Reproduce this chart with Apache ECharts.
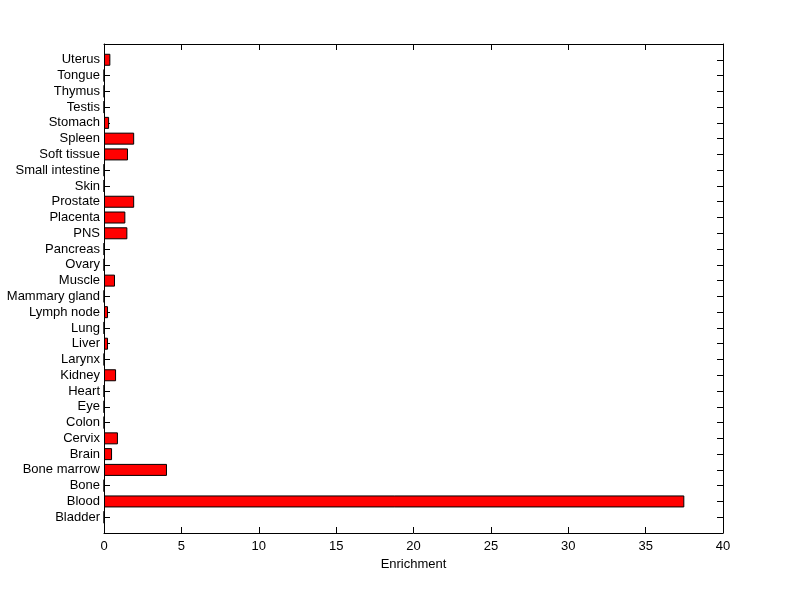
<!DOCTYPE html>
<html><head><meta charset="utf-8">
<script src="https://cdn.jsdelivr.net/npm/echarts@6/dist/echarts.min.js"></script>
<style>html,body{margin:0;padding:0;background:#fff}#c{width:800px;height:599px}</style>
</head><body><div id="c"></div>
<script>
const categories = ['Bladder','Blood','Bone','Bone marrow','Brain','Cervix','Colon','Eye','Heart','Kidney','Larynx','Liver','Lung','Lymph node','Mammary gland','Muscle','Ovary','Pancreas','PNS','Placenta','Prostate','Skin','Small intestine','Soft tissue','Spleen','Stomach','Testis','Thymus','Tongue','Uterus'];
const enrichment = [0,37.5,0,4.07,0.52,0.9,0,0,0,0.78,0,0.26,0,0.26,0,0.71,0,0,1.51,1.38,1.95,0,0,1.55,1.95,0.33,0,0,0,0.41];
const xTicks = {min:0, max:40, interval:5};

const cats = [''].concat(categories, ['']);
const vals = ['-'].concat(enrichment, ['-']);
const font = 'Liberation Sans, Arial, sans-serif';
const chart = echarts.init(document.getElementById('c'));
function yAx(pos, showLabel){
  return {
    type:'category', data:cats, boundaryGap:false, position:pos,
    axisLine:{show:true, onZero:false, lineStyle:{color:'#000', width:1}},
    axisTick:{show:true, inside:true, length:6, interval:0, lineStyle:{color:'#000'}},
    axisLabel: showLabel ? {show:true, color:'#000', fontFamily:font, fontSize:13, margin:4, interval:0} : {show:false},
    splitLine:{show:false}
  };
}
function xAx(pos, showLabel){
  const a = {
    type:'value', min:xTicks.min, max:xTicks.max, interval:xTicks.interval, position:pos,
    axisLine:{show:true, onZero:false, lineStyle:{color:'#000', width:1}},
    axisTick:{show:true, inside:true, length:6, lineStyle:{color:'#000'}},
    axisLabel: showLabel ? {show:true, color:'#000', fontFamily:font, fontSize:13, margin:7} : {show:false},
    splitLine:{show:false}
  };
  if (showLabel) {
    a.name = 'Enrichment'; a.nameLocation = 'middle'; a.nameGap = 25;
    a.nameTextStyle = {color:'#000', fontFamily:font, fontSize:13};
  }
  return a;
}
chart.setOption({
  animation:false,
  backgroundColor:'#fff',
  grid:{left:104, right:77, top:44, bottom:66, containLabel:false},
  xAxis:[xAx('bottom', true), xAx('top', false)],
  yAxis:[yAx('left', true), yAx('right', false)],
  series:[{
    type:'bar', data:vals, xAxisIndex:0, yAxisIndex:0, barWidth:12,
    itemStyle:{color:'#ff0000', borderColor:'#000', borderWidth:1},
    z:3
  }]
});
</script></body></html>
